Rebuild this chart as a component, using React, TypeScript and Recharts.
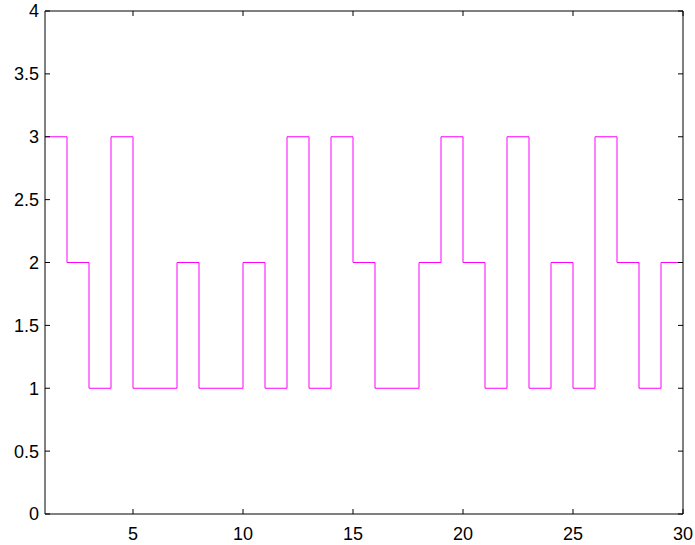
import { LineChart, Line, XAxis, YAxis } from "recharts";

const xValues = [1, 2, 3, 4, 5, 6, 7, 8, 9, 10, 11, 12, 13, 14, 15, 16, 17, 18, 19, 20, 21, 22, 23, 24, 25, 26, 27, 28, 29, 30];
const yValues = [3, 2, 1, 3, 1, 1, 2, 1, 1, 2, 1, 3, 1, 3, 2, 1, 1, 2, 3, 2, 1, 3, 1, 2, 1, 3, 2, 1, 2, 2];
const xTicks = [5, 10, 15, 20, 25, 30];
const yTicks = [0, 0.5, 1, 1.5, 2, 2.5, 3, 3.5, 4];

const data = xValues.map((x, i) => ({ x, y: yValues[i] }));

const FONT = "'Liberation Sans', Arial, sans-serif";

const BottomTick = ({ x, y, payload }: any) => (
    <text x={x} y={y} dy="0.71em" textAnchor="middle" fill="#000" fontSize={18} fontFamily={FONT}>
        {payload.value}
    </text>
);

const LeftTick = ({ x, y, payload }: any) => (
    <text x={x} y={y} dy="0.36em" textAnchor="end" fill="#000" fontSize={18} fontFamily={FONT}>
        {payload.value}
    </text>
);

const App = () => {
    return (
        <div style={{ position: "absolute", left: 0, top: 0, background: "#fff" }}>
            <LineChart
                width={695}
                height={545}
                data={data}
                margin={{ top: 10, right: 11, bottom: 0, left: 0 }}
            >
                <XAxis
                    xAxisId="bottom"
                    dataKey="x"
                    type="number"
                    domain={[1, 30]}
                    ticks={xTicks}
                    allowDataOverflow
                    stroke="#000"
                    tick={<BottomTick />}
                    tickSize={-5}
                    tickMargin={18}
                    height={31}
                />
                <XAxis
                    xAxisId="top"
                    orientation="top"
                    dataKey="x"
                    type="number"
                    domain={[1, 30]}
                    ticks={xTicks}
                    allowDataOverflow
                    stroke="#000"
                    tickFormatter={() => ""}
                    tickSize={-5}
                    height={1}
                />
                <YAxis
                    yAxisId="left"
                    type="number"
                    domain={[0, 4]}
                    ticks={yTicks}
                    allowDataOverflow
                    stroke="#000"
                    tick={<LeftTick />}
                    tickSize={-5}
                    tickMargin={11}
                    width={45}
                />
                <YAxis
                    yAxisId="right"
                    orientation="right"
                    type="number"
                    domain={[0, 4]}
                    ticks={yTicks}
                    allowDataOverflow
                    stroke="#000"
                    tickFormatter={() => ""}
                    tickSize={-5}
                    width={1}
                />
                <Line
                    xAxisId="top"
                    yAxisId="right"
                    dataKey="y"
                    stroke="none"
                    dot={false}
                    isAnimationActive={false}
                />
                <Line
                    xAxisId="bottom"
                    yAxisId="left"
                    type="stepAfter"
                    dataKey="y"
                    stroke="#ff00ff"
                    strokeWidth={1}
                    dot={false}
                    isAnimationActive={false}
                />
            </LineChart>
        </div>
    );
};

export default App;
